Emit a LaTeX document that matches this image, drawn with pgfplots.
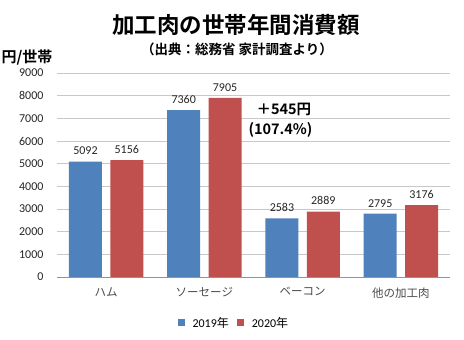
\documentclass[border=0pt]{standalone}
\usepackage{pgfplots}
\pgfplotsset{compat=1.18}
\usepackage{fontspec}
\setmainfont{Carlito}
\newfontfamily\jp{Noto Sans CJK JP}
\newfontfamily\jpb{Noto Sans CJK JP Bold}
\definecolor{cblue}{HTML}{4F81BD}
\definecolor{cred}{HTML}{C0504D}
\definecolor{cgrid}{HTML}{C8C8C8}
\begin{document}
\begin{tikzpicture}[x=1pt,y=1pt]
\path[use as bounding box, fill=white] (0,0) rectangle (464,340);
\begin{axis}[
  at={(57pt,63pt)}, anchor=south west,
  scale only axis, width=393pt, height=204pt,
  xmin=-0.5, xmax=3.5, ymin=0, ymax=9000,
  ybar, bar width=0.336,
  xtick={0,1,2,3},
  xticklabels={{ハム},{ソーセージ},{ベーコン},{他の加工肉}},
  xticklabel style={font=\jp\fontsize{11.5}{11.5}\selectfont, text=black!70, yshift=-7pt},
  ytick={0,1000,...,9000},
  yticklabel style={font=\fontsize{12}{12}\selectfont, text=black!85, xshift=-10pt},
  /pgf/number format/assume math mode=true,
  /pgf/number format/set thousands separator={},
  ymajorgrids, grid style={cgrid, line width=0.8pt},
  major tick length=0pt,
  axis x line*=bottom, axis y line*=left,
  y axis line style={draw=none},
  x axis line style={draw=gray!85, line width=0.8pt},
  axis line style={-},
  nodes near coords,
  nodes near coords style={font=\fontsize{12}{12}\selectfont, text=black!85, yshift=3pt,
    /pgf/number format/set thousands separator={}},
  legend style={at={(0.45,-0.18)}, anchor=north, draw=none, legend columns=2,
    font=\fontsize{12}{12}\selectfont, column sep=6pt, inner sep=1pt},
  legend image code/.code={\fill[#1] (0pt,-3.5pt) rectangle (7pt,3.5pt);},
  clip=false,
]
\addplot[fill=cblue, draw=none, bar shift=-0.21] coordinates {(0,5092) (1,7360) (2,2583) (3,2795)};
\addplot[fill=cred, draw=none, bar shift=0.21] coordinates {(0,5156) (1,7905) (2,2889) (3,3176)};
\legend{2019{\jp 年},2020{\jp 年}}
\end{axis}
\node[font=\jpb\fontsize{22.5}{22.5}\selectfont] at (236,315) {加工肉の世帯年間消費額};
\node[font=\jpb\fontsize{13.5}{13.5}\selectfont] at (237,291) {（出典：総務省 家計調査より）};
\node[font=\jpb\fontsize{15}{15}\selectfont, anchor=west] at (-2,283) {円/世帯};
\node[font=\jpb\fontsize{14.5}{14.5}\selectfont, anchor=west] at (253,231) {＋545円};
\node[font=\jpb\fontsize{14.5}{14.5}\selectfont, anchor=west] at (245,210) {(107.4\%)};
\end{tikzpicture}
\end{document}
